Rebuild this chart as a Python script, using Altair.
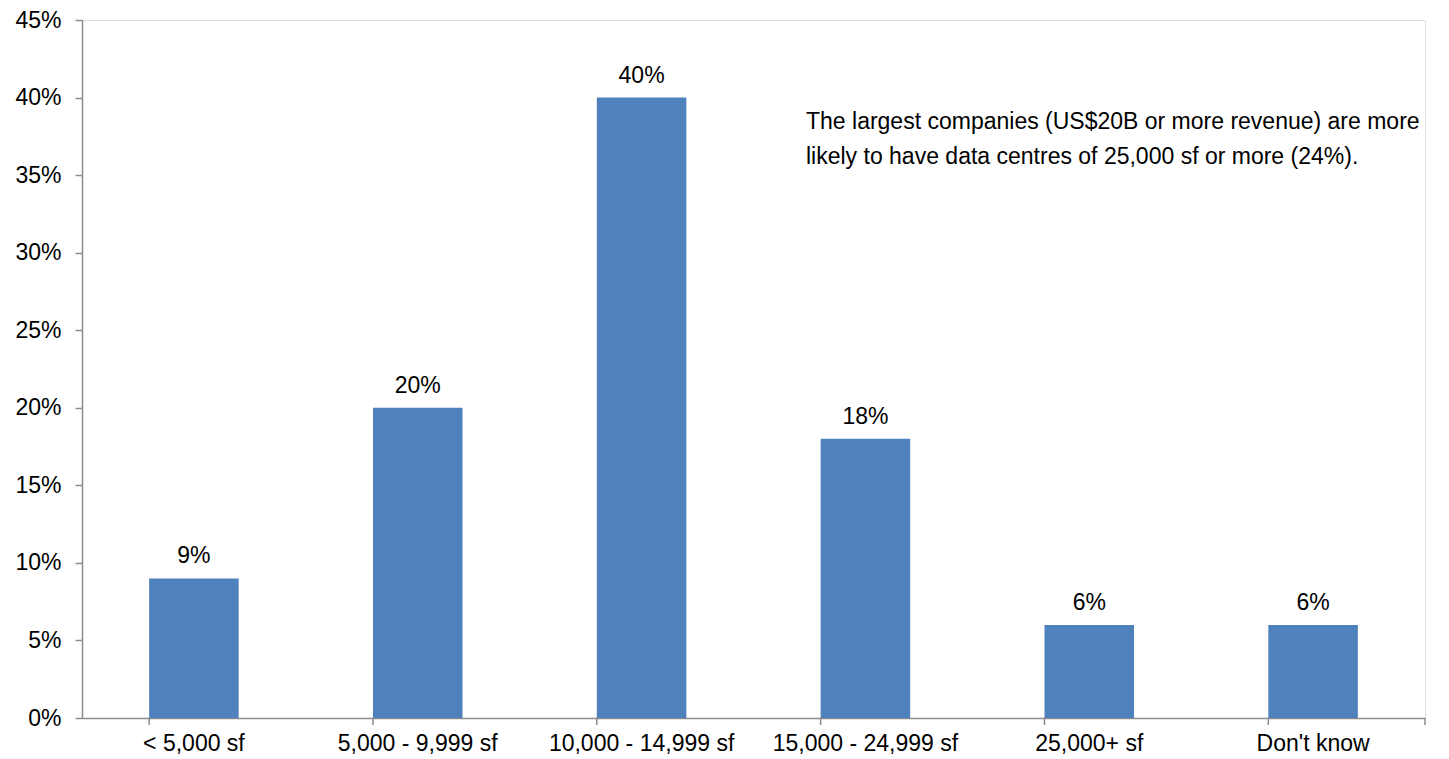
import altair as alt
import pandas as pd

categories = ["< 5,000 sf", "5,000 - 9,999 sf", "10,000 - 14,999 sf",
              "15,000 - 24,999 sf", "25,000+ sf", "Don't know"]
values = [9, 20, 40, 18, 6, 6]
y_ticks = [0, 5, 10, 15, 20, 25, 30, 35, 40, 45]
note_lines = ["The largest companies (US$20B or more revenue) are more",
              "likely to have data centres of 25,000 sf or more (24%)."]

W, H = 1343, 698
FONT = "Liberation Sans"
FS = 23
AX = "#8c8c8c"

df = pd.DataFrame({"cat": categories, "val": values,
                   "lab": [f"{v}%" for v in values]})

xscale = alt.Scale(domain=categories, paddingInner=0.6, paddingOuter=0.3)
yscale = alt.Scale(domain=[0, 45])

base = alt.Chart(df)

bars = base.mark_bar(color="#4F81BD").encode(
    x=alt.X("cat:N", scale=xscale, sort=categories, title=None,
            axis=alt.Axis(labelAngle=0, ticks=False, domainColor=AX, domainWidth=1.5,
                          labelFont=FONT, labelFontSize=FS, labelColor="#000",
                          labelPadding=14, labelLimit=0)),
    y=alt.Y("val:Q", scale=yscale, title=None,
            axis=alt.Axis(values=y_ticks, labelExpr="datum.value + '%'", grid=False,
                          domainColor=AX, domainWidth=1.5, tickColor=AX, tickWidth=1.5,
                          tickSize=7, labelFont=FONT, labelFontSize=FS,
                          labelColor="#000", labelPadding=14)),
)

labels = base.mark_text(font=FONT, fontSize=FS, color="#000", baseline="bottom", dy=-10).encode(
    x=alt.X("cat:N", scale=xscale, sort=categories),
    y=alt.Y("val:Q", scale=yscale),
    text="lab:N",
)

ticks = base.mark_rule(color=AX, strokeWidth=1.5).encode(
    x=alt.X("cat:N", scale=xscale, sort=categories, bandPosition=0),
    y=alt.value(H),
    y2=alt.value(H + 7),
)
end_tick = alt.Chart(pd.DataFrame({"a": [0]})).mark_rule(color=AX, strokeWidth=1.5).encode(
    x=alt.value(W), y=alt.value(H), y2=alt.value(H + 7)
)

note_df = pd.DataFrame({"t": ["\n".join(note_lines)]})
note = alt.Chart(note_df).mark_text(font=FONT, fontSize=FS, color="#000", align="left",
                                    baseline="middle", lineBreak="\n", lineHeight=35).encode(
    x=alt.value(724),
    y=alt.value(102),
    text="t:N",
)

chart = alt.layer(bars, labels, ticks, end_tick, note).properties(
    width=W, height=H,
    autosize=alt.AutoSizeParams(type="none"),
    padding={"left": 82, "top": 20, "right": 24, "bottom": 41},
).configure_view(stroke=None).configure(background="white")

chart.save("out.html", embed_options={"renderer": "svg", "actions": False})
